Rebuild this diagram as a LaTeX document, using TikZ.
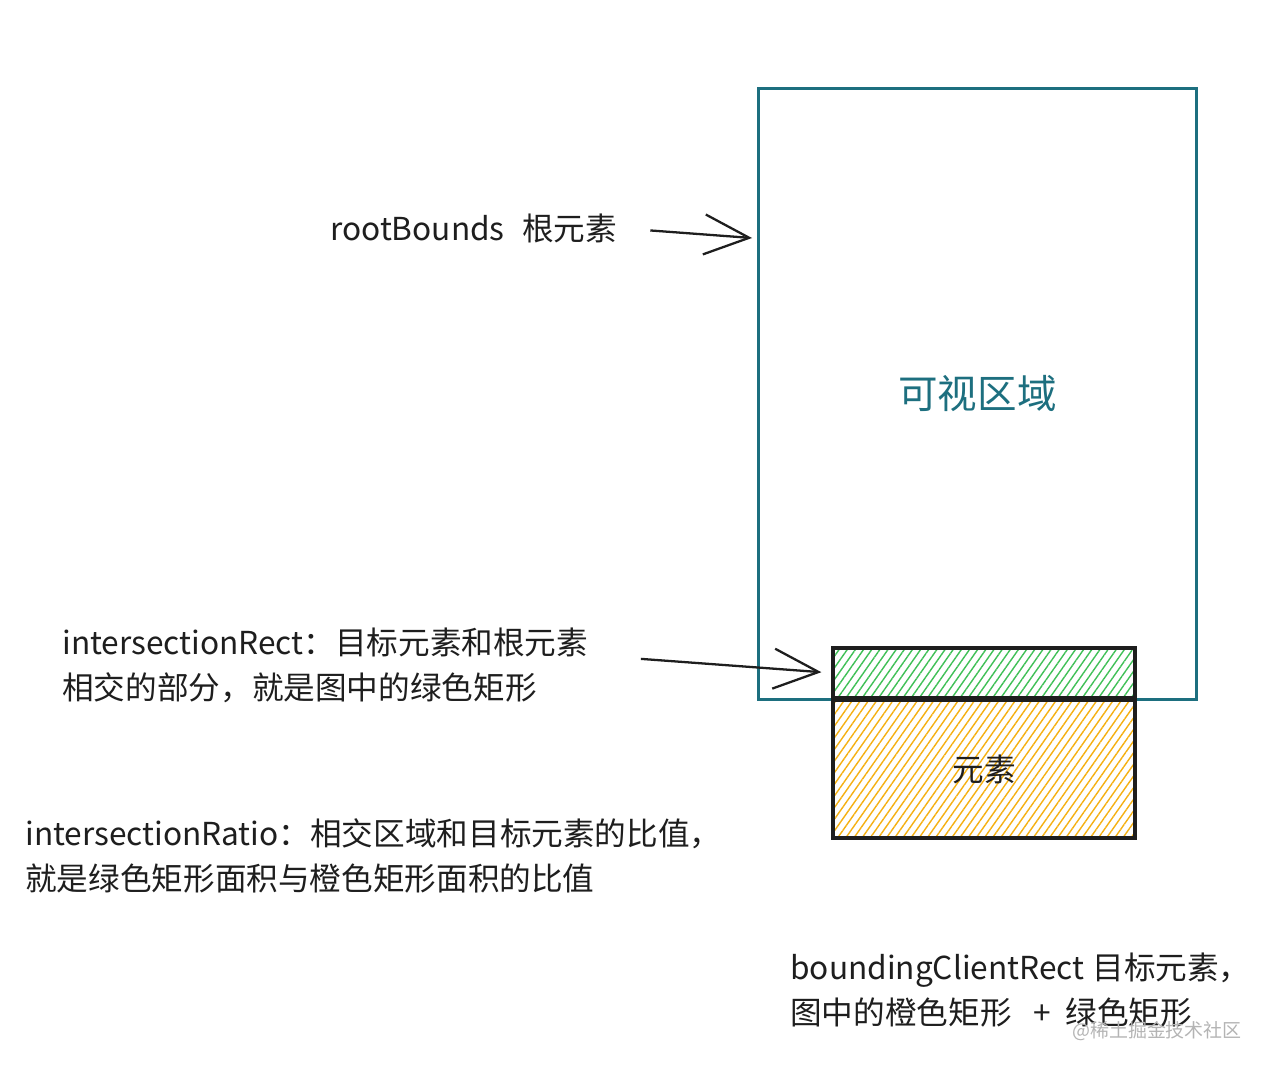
\documentclass[tikz,border=0pt]{standalone}
\usepackage{fontspec}
\setmainfont{Noto Sans CJK SC}
\usetikzlibrary{positioning,arrows.meta,patterns.meta}
\definecolor{viewport}{HTML}{1D6F7F}
\definecolor{ink}{HTML}{1E1E1E}
\definecolor{hatchgreen}{HTML}{40C057}
\definecolor{hatchorange}{HTML}{F5B012}
\definecolor{wmark}{HTML}{B4B4B4}

\begin{document}
\begin{tikzpicture}[x=0.02cm, y=-0.02cm,
  txt/.style={inner sep=0pt, anchor=west, align=left, text=ink,
              font=\fontsize{18}{25.5}\selectfont},
  box/.style={draw=ink, line width=2pt, minimum width=6.04cm, inner sep=0pt,
              text=ink, font=\fontsize{18}{20}\selectfont},
  hatch/.style={pattern={Lines[angle=55, distance=3.8pt, line width=0.8pt]}},
  arr/.style={-{Straight Barb[length=9mm, width=8mm]}, line width=1.3pt, draw=ink}]
\useasboundingbox (0,0) rectangle (1264,1068);
\node[draw=viewport, line width=1.7pt, minimum width=8.78cm, minimum height=12.24cm,
      text=viewport, font=\fontsize{22.5}{24}\selectfont] (view) at (977.5,394) {可视区域};
\node[box, hatch, minimum height=1.0cm, pattern color=hatchgreen] (green) at (984,673) {};
\node[box, hatch, minimum height=2.76cm, pattern color=hatchorange] (orange) at (984,769) {元素};
\node[txt] (rootlbl) at (330,228) {rootBounds\hspace{0.55em}根元素};
\node[txt] (isec) at (62,665) {intersectionRect：目标元素和根元素\\相交的部分，就是图中的绿色矩形};
\node[txt] (ratio) at (25,856) {intersectionRatio：相交区域和目标元素的比值，\\就是绿色矩形面积与橙色矩形面积的比值};
\node[txt] (bcr) at (790,990) {boundingClientRect\hspace{0.25em}目标元素，\\图中的橙色矩形\hspace{0.7em}+\hspace{0.45em}绿色矩形};
\node[text=wmark, font=\fontsize{10.8}{12}\selectfont, inner sep=0pt] (wm) at (1157,1031) {@稀土掘金技术社区};
\coordinate (rootin) at (752,238);
\draw[arr, shorten <=0.66cm] (rootlbl.east) -- (rootin);
\draw[arr, shorten <=1.05cm, shorten >=0.22cm] ([yshift=0.2cm]isec.east) -- (green.west);
\end{tikzpicture}
\end{document}
